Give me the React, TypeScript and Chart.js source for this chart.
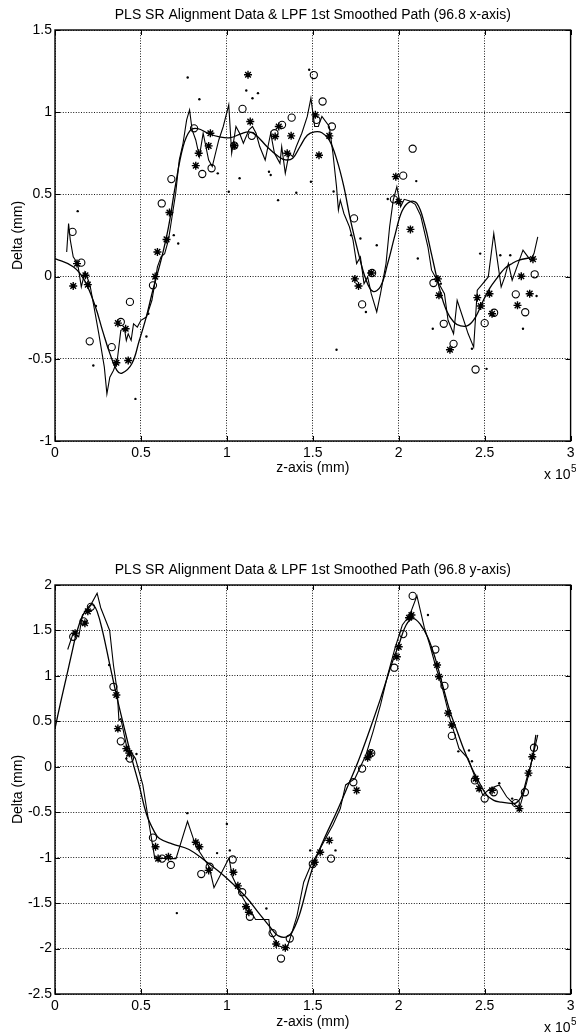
import React, { useEffect, useRef } from "react";
import { Chart, registerables } from "chart.js";

Chart.register(...registerables);

const FONT = "'Liberation Sans', Arial, Helvetica, sans-serif";

// ---------- shared axis data ----------
const Z_TICKS = [0, 0.5, 1, 1.5, 2, 2.5, 3]; // z-axis, in units of 10^5 mm
const Z_EXPONENT = "5";
const X_PLOT_TICKS = [-1, -0.5, 0, 0.5, 1, 1.5];
const Y_PLOT_TICKS = [-2.5, -2, -1.5, -1, -0.5, 0, 0.5, 1, 1.5, 2];

const TITLE_X = "PLS SR Alignment Data & LPF 1st Smoothed Path (96.8 x-axis)";
const TITLE_Y = "PLS SR Alignment Data & LPF 1st Smoothed Path (96.8 y-axis)";
const Z_LABEL = "z-axis (mm)";
const DELTA_LABEL = "Delta (mm)";

type P = [number, number];

// ---------- top chart (x-axis) ----------
const xSmooth: P[] = [
  [0, 0.11], [0.106, 0.06], [0.17, -0.02], [0.234, -0.18], [0.277, -0.33], [0.32, -0.47],
  [0.36, -0.57], [0.39, -0.587], [0.447, -0.53], [0.49, -0.39], [0.53, -0.25], [0.57, -0.08],
  [0.617, 0.1], [0.66, 0.3], [0.7, 0.55], [0.745, 0.79], [0.787, 0.89], [0.83, 0.9],
  [0.894, 0.87], [0.957, 0.85], [1.02, 0.845], [1.085, 0.87], [1.13, 0.88], [1.17, 0.86],
  [1.234, 0.79], [1.3, 0.73], [1.34, 0.71], [1.383, 0.72], [1.425, 0.79], [1.468, 0.86],
  [1.51, 0.88], [1.553, 0.875], [1.596, 0.83], [1.64, 0.71], [1.68, 0.55], [1.72, 0.34],
  [1.766, 0.14], [1.81, -0.02], [1.85, -0.09], [1.894, -0.06], [1.936, 0.08], [1.98, 0.26],
  [2.02, 0.4], [2.064, 0.455], [2.106, 0.445], [2.15, 0.32], [2.19, 0.14], [2.234, -0.06],
  [2.277, -0.205], [2.32, -0.276], [2.36, -0.3], [2.404, -0.297], [2.447, -0.246], [2.49, -0.15],
  [2.53, -0.07], [2.574, -0.006], [2.617, 0.05], [2.66, 0.08], [2.7, 0.1], [2.766, 0.115],
];
const xPath: P[] = [
  [0.068, 0.15], [0.079, 0.323], [0.089, 0.222], [0.106, 0.12], [0.132, 0.079], [0.153, -0.063],
  [0.174, 0.028], [0.202, -0.043], [0.23, -0.203], [0.255, -0.348], [0.287, -0.551], [0.302, -0.713],
  [0.319, -0.612], [0.34, -0.571], [0.362, -0.51], [0.383, -0.327], [0.404, -0.317], [0.415, -0.388],
  [0.426, -0.348], [0.443, -0.388], [0.457, -0.287], [0.479, -0.307], [0.5, -0.266], [0.532, -0.246],
  [0.564, -0.144], [0.574, -0.083], [0.596, 0.059], [0.617, 0.12], [0.638, 0.14], [0.66, 0.222],
  [0.681, 0.364], [0.702, 0.506], [0.723, 0.709], [0.745, 0.811], [0.766, 0.953], [0.783, 1.014],
  [0.798, 0.892], [0.819, 0.831], [0.84, 0.73], [0.862, 0.872], [0.894, 0.709], [0.915, 0.669],
  [0.953, 0.831], [0.979, 0.913], [1.011, 1.045], [1.028, 0.75], [1.053, 0.913], [1.074, 0.872],
  [1.096, 0.811], [1.128, 0.892], [1.149, 0.913], [1.17, 0.872], [1.191, 0.791], [1.223, 0.709],
  [1.255, 0.872], [1.277, 0.75], [1.309, 0.689], [1.319, 0.791], [1.34, 0.628], [1.362, 0.75],
  [1.383, 0.73], [1.404, 0.791], [1.436, 0.872], [1.468, 0.974], [1.489, 1.085], [1.511, 0.913],
  [1.532, 0.913], [1.553, 0.974], [1.596, 0.913], [1.617, 0.75], [1.638, 0.547], [1.649, 0.404],
  [1.66, 0.465], [1.681, 0.384], [1.713, 0.303], [1.734, 0.222], [1.755, 0.079], [1.777, 0.12],
  [1.798, -0.043], [1.819, -0.002], [1.84, -0.104], [1.872, -0.215], [1.894, -0.104], [1.926, 0.079],
  [1.947, 0.303], [1.968, 0.465], [1.989, 0.547], [2.011, 0.425], [2.032, 0.47], [2.064, 0.46],
  [2.096, 0.44], [2.128, 0.37], [2.17, 0.18], [2.191, 0.039], [2.213, -0.002], [2.234, -0.043],
  [2.266, -0.104], [2.287, -0.266], [2.319, -0.348], [2.34, -0.144], [2.372, -0.246], [2.404, -0.348],
  [2.436, -0.429], [2.457, -0.083], [2.489, -0.043], [2.521, -0.002], [2.553, 0.262], [2.574, 0.1],
  [2.596, -0.063], [2.617, -0.002], [2.638, 0.079], [2.66, -0.022], [2.702, 0.1], [2.723, 0.161],
  [2.766, 0.1], [2.787, 0.14], [2.809, 0.242],
];
const xCircles: P[] = [
  [0.102, 0.272], [0.153, 0.085], [0.202, -0.394], [0.33, -0.429], [0.383, -0.276], [0.436, -0.154],
  [0.57, -0.053], [0.621, 0.445], [0.677, 0.593], [0.809, 0.902], [0.857, 0.624], [0.911, 0.659],
  [1.043, 0.797], [1.091, 1.02], [1.145, 0.856], [1.277, 0.872], [1.321, 0.923], [1.377, 0.967],
  [1.506, 1.226], [1.521, 0.953], [1.557, 1.065], [1.611, 0.913], [1.74, 0.354], [1.787, -0.169],
  [1.845, 0.022], [1.972, 0.47], [2.026, 0.614], [2.081, 0.778], [2.202, -0.039], [2.262, -0.287],
  [2.319, -0.409], [2.447, -0.565], [2.5, -0.283], [2.555, -0.22], [2.681, -0.108], [2.736, -0.217],
  [2.791, 0.014],
];
const xStars: P[] = [
  [0.106, -0.057], [0.128, 0.079], [0.177, 0.008], [0.191, -0.049], [0.357, -0.524], [0.366, -0.283],
  [0.411, -0.317], [0.426, -0.51], [0.583, 0], [0.596, 0.15], [0.649, 0.226], [0.666, 0.39],
  [0.819, 0.675], [0.836, 0.75], [0.894, 0.795], [0.904, 0.872], [1.043, 0.797], [1.123, 1.228],
  [1.136, 0.943], [1.281, 0.852], [1.302, 0.913], [1.351, 0.75], [1.374, 0.856], [1.515, 0.984],
  [1.536, 0.738], [1.596, 0.856], [1.745, -0.014], [1.766, -0.057], [1.84, 0.022], [1.983, 0.608],
  [2.0, 0.455], [2.068, 0.287], [2.228, -0.014], [2.234, -0.114], [2.298, -0.445], [2.457, -0.128],
  [2.477, -0.179], [2.528, -0.104], [2.543, -0.226], [2.691, -0.175], [2.713, 0.002], [2.762, -0.104],
  [2.781, 0.106],
];
const xDots: P[] = [
  [0.132, 0.398], [0.238, -0.179], [0.223, -0.541], [0.468, -0.744], [0.532, -0.364], [0.543, -0.226],
  [0.691, 0.252], [0.717, 0.201], [0.772, 1.211], [0.84, 1.079], [0.947, 0.628], [1.011, 0.516],
  [1.074, 0.598], [1.113, 1.132], [1.149, 1.085], [1.181, 1.116], [1.245, 0.638], [1.255, 0.618],
  [1.298, 0.465], [1.404, 0.51], [1.479, 1.258], [1.489, 0.577], [1.621, 0.518], [1.638, -0.445],
  [1.723, 0.252], [1.777, 0.232], [1.809, -0.215], [1.872, 0.191], [1.936, 0.472], [2.102, 0.581],
  [2.111, 0.11], [2.198, -0.317], [2.245, -0.043], [2.426, -0.439], [2.474, 0.14], [2.511, -0.561],
  [2.591, 0.13], [2.649, 0.13], [2.723, -0.317], [2.802, -0.118],
];

// ---------- bottom chart (y-axis) ----------
const ySmooth: P[] = [
  [0, 0.42], [0.034, 0.72], [0.068, 1.0], [0.1, 1.27], [0.125, 1.47], [0.16, 1.66], [0.2, 1.77],
  [0.222, 1.78], [0.245, 1.71], [0.277, 1.49], [0.319, 1.12], [0.362, 0.75], [0.404, 0.42],
  [0.447, 0.09], [0.489, -0.2], [0.532, -0.52], [0.574, -0.7], [0.608, -0.79], [0.685, -0.85],
  [0.78, -0.91], [0.877, -1.04], [0.99, -1.21], [1.11, -1.43], [1.186, -1.61], [1.263, -1.79],
  [1.3, -1.86], [1.35, -1.87], [1.385, -1.8], [1.427, -1.6], [1.476, -1.25], [1.52, -1.0],
  [1.574, -0.76], [1.638, -0.5], [1.702, -0.22], [1.766, 0.07], [1.83, 0.4], [1.894, 0.75],
  [1.957, 1.12], [2.0, 1.34], [2.043, 1.56], [2.085, 1.63], [2.128, 1.56], [2.17, 1.42],
  [2.213, 1.19], [2.255, 0.9], [2.298, 0.61], [2.34, 0.39], [2.383, 0.17], [2.426, -0.02],
  [2.468, -0.17], [2.511, -0.31], [2.553, -0.37], [2.596, -0.39], [2.638, -0.4], [2.681, -0.4],
  [2.713, -0.33], [2.745, -0.13], [2.777, 0.09], [2.798, 0.35],
];
const yPath: P[] = [
  [0.074, 1.29], [0.106, 1.47], [0.138, 1.43], [0.16, 1.67], [0.202, 1.76], [0.245, 1.91],
  [0.266, 1.75], [0.318, 1.5], [0.34, 1.12], [0.362, 0.83], [0.372, 0.51], [0.383, 0.53],
  [0.415, 0.24], [0.468, 0.09], [0.511, -0.2], [0.55, -0.66], [0.58, -1.0], [0.646, -1.01],
  [0.704, -1.01], [0.771, -0.6], [0.82, -0.875], [0.897, -1.1], [0.925, -1.33], [1.013, -1.0],
  [1.03, -1.2], [1.08, -1.4], [1.167, -1.68], [1.244, -1.68], [1.253, -1.82], [1.3, -1.97],
  [1.35, -2.0], [1.408, -1.64], [1.447, -1.27], [1.489, -1.08], [1.532, -0.94], [1.574, -0.79],
  [1.617, -0.64], [1.66, -0.46], [1.691, -0.2], [1.745, -0.13], [1.809, 0.13], [1.851, 0.39],
  [1.894, 0.68], [1.936, 1.01], [1.979, 1.31], [2.021, 1.56], [2.064, 1.67], [2.106, 1.88],
  [2.149, 1.53], [2.181, 1.34], [2.213, 1.12], [2.255, 0.86], [2.298, 0.53], [2.351, 0.2],
  [2.404, 0.09], [2.447, -0.13], [2.489, -0.31], [2.532, -0.24], [2.585, -0.2], [2.628, -0.33],
  [2.66, -0.39], [2.702, -0.46], [2.745, -0.17], [2.777, 0.09], [2.809, 0.35],
];
const yCircles: P[] = [
  [0.106, 1.43], [0.166, 1.6], [0.209, 1.76], [0.34, 0.88], [0.383, 0.28], [0.436, 0.09],
  [0.57, -0.78], [0.623, -1.01], [0.674, -1.08], [0.851, -1.18], [0.9, -1.1], [1.034, -1.02],
  [1.089, -1.38], [1.134, -1.65], [1.266, -1.83], [1.315, -2.11], [1.366, -1.89], [1.5, -1.07],
  [1.606, -1.01], [1.736, -0.17], [1.787, -0.02], [1.84, 0.15], [1.974, 1.09], [2.026, 1.46],
  [2.081, 1.88], [2.213, 1.29], [2.266, 0.89], [2.309, 0.34], [2.443, -0.15], [2.5, -0.35],
  [2.553, -0.28], [2.681, -0.4], [2.734, -0.28], [2.787, 0.21],
];
const yStars: P[] = [
  [0.117, 1.47], [0.174, 1.58], [0.191, 1.71], [0.357, 0.79], [0.366, 0.42], [0.415, 0.2],
  [0.432, 0.15], [0.585, -0.88], [0.6, -1.01], [0.66, -0.99], [0.819, -0.83], [0.84, -0.88],
  [0.894, -1.14], [1.038, -1.16], [1.064, -1.31], [1.111, -1.54], [1.128, -1.6], [1.287, -1.95],
  [1.34, -1.99], [1.511, -1.05], [1.543, -0.94], [1.596, -0.81], [1.755, -0.26], [1.819, 0.1],
  [1.834, 0.15], [1.989, 1.21], [2.0, 1.32], [2.06, 1.64], [2.074, 1.67], [2.223, 1.12],
  [2.234, 0.99], [2.287, 0.59], [2.309, 0.46], [2.447, -0.13], [2.468, -0.24], [2.543, -0.26],
  [2.702, -0.46], [2.755, -0.07], [2.777, 0.11],
];
const yDots: P[] = [
  [0.315, 1.12], [0.415, 0.09], [0.474, 0.14], [0.77, -0.51], [1.0, -0.63], [0.943, -0.95],
  [1.017, -0.92], [0.709, -1.61], [1.23, -1.56], [1.485, -0.92], [1.632, -0.92], [2.17, 1.67],
  [2.347, 0.17], [2.409, 0.18], [2.426, 0.06], [2.585, -0.18], [2.66, -0.35],
];

// ---------- chart building ----------
type Spec = {
  title: string;
  yMin: number;
  yMax: number;
  yTicks: number[];
  smooth: P[];
  path: P[];
  circles: P[];
  stars: P[];
  dots: P[];
  padTop: number;
  padBottom: number;
  xAxisHeight: number;
};

const pts = (a: P[]) => a.map(([x, y]) => ({ x, y }));

const decorPlugin = {
  id: "decor",
  afterDatasetsDraw(chart: any, _args: any, opts: any) {
    const { ctx, chartArea: a, scales } = chart;
    ctx.save();
    // inside tick marks
    ctx.strokeStyle = "#000";
    ctx.lineWidth = 1;
    ctx.beginPath();
    for (const v of Z_TICKS) {
      const x = Math.round(scales.x.getPixelForValue(v)) + 0.5;
      ctx.moveTo(x, a.bottom);
      ctx.lineTo(x, a.bottom - 5);
      ctx.moveTo(x, a.top);
      ctx.lineTo(x, a.top + 5);
    }
    for (const v of opts.yTicks) {
      const y = Math.round(scales.y.getPixelForValue(v)) + 0.5;
      ctx.moveTo(a.left, y);
      ctx.lineTo(a.left + 5, y);
      ctx.moveTo(a.right, y);
      ctx.lineTo(a.right - 5, y);
    }
    ctx.stroke();
    // frame
    ctx.lineWidth = 1.4;
    ctx.strokeRect(a.left, a.top, a.right - a.left, a.bottom - a.top);
    // title
    ctx.fillStyle = "#000";
    ctx.font = `14px ${FONT}`;
    ctx.textAlign = "center";
    ctx.textBaseline = "middle";
    ctx.fillText(opts.title, (a.left + a.right) / 2, a.top - 15);
    // exponent
    ctx.textAlign = "left";
    const base = "x 10";
    const bx = 544;
    ctx.fillText(base, bx, a.bottom + 34);
    const w = ctx.measureText(base).width;
    ctx.font = `10px ${FONT}`;
    ctx.fillText(Z_EXPONENT, bx + w + 0.5, a.bottom + 28);
    ctx.restore();
  },
};

function makeConfig(spec: Spec): any {
  const tickFont = { family: FONT, size: 14 };
  return {
    type: "scatter",
    data: {
      datasets: [
        {
          data: pts(spec.smooth),
          showLine: true,
          borderColor: "#000",
          borderWidth: 1.3,
          pointRadius: 0,
          tension: 0.4,
          fill: false,
        },
        {
          data: pts(spec.path),
          showLine: true,
          borderColor: "#000",
          borderWidth: 1.1,
          pointRadius: 0,
          tension: 0,
          fill: false,
        },
        {
          data: pts(spec.circles),
          showLine: false,
          pointStyle: "circle",
          pointRadius: 3.6,
          borderColor: "#000",
          backgroundColor: "rgba(0,0,0,0)",
          borderWidth: 1.1,
        },
        {
          data: pts(spec.stars),
          showLine: false,
          pointStyle: "star",
          pointRadius: 4,
          borderColor: "#000",
          borderWidth: 1.4,
        },
        {
          data: pts(spec.dots),
          showLine: false,
          pointStyle: "circle",
          pointRadius: 1.2,
          borderWidth: 0,
          backgroundColor: "#000",
        },
      ],
    },
    options: {
      responsive: false,
      animation: false,
      events: [],
      layout: { padding: { top: spec.padTop, left: 0, right: 3, bottom: spec.padBottom } },
      plugins: {
        legend: { display: false },
        tooltip: { enabled: false },
        decor: { title: spec.title, yTicks: spec.yTicks },
      },
      scales: {
        x: {
          type: "linear",
          min: 0,
          max: 3,
          afterBuildTicks: (s: any) => {
            s.ticks = Z_TICKS.map((v) => ({ value: v }));
          },
          afterFit: (s: any) => {
            s.height = spec.xAxisHeight;
            s.paddingLeft = 0;
            s.paddingRight = 0;
          },
          ticks: {
            callback: (v: any) => String(v),
            font: tickFont,
            color: "#000",
            padding: 4,
            maxRotation: 0,
            autoSkip: false,
          },
          grid: { color: "#000", lineWidth: 0.9, drawTicks: false },
          border: { display: false, dash: [1, 1.6] },
          title: {
            display: true,
            text: Z_LABEL,
            font: tickFont,
            color: "#000",
            padding: { top: 0, bottom: 0 },
          },
        },
        y: {
          type: "linear",
          min: spec.yMin,
          max: spec.yMax,
          afterBuildTicks: (s: any) => {
            s.ticks = spec.yTicks.map((v) => ({ value: v }));
          },
          afterFit: (s: any) => {
            s.width = 55;
          },
          ticks: {
            callback: (v: any) => String(v),
            font: tickFont,
            color: "#000",
            padding: 3,
            autoSkip: false,
          },
          grid: { color: "#000", lineWidth: 0.9, drawTicks: false },
          border: { display: false, dash: [1, 1.6] },
          title: {
            display: true,
            text: DELTA_LABEL,
            font: tickFont,
            color: "#000",
            padding: { top: 10, bottom: 0 },
          },
        },
      },
    },
    plugins: [decorPlugin],
  };
}

const TOP_SPEC: Spec = {
  title: TITLE_X,
  yMin: -1,
  yMax: 1.5,
  yTicks: X_PLOT_TICKS,
  smooth: xSmooth,
  path: xPath,
  circles: xCircles,
  stars: xStars,
  dots: xDots,
  padTop: 30,
  padBottom: 41,
  xAxisHeight: 36,
};

const BOTTOM_SPEC: Spec = {
  title: TITLE_Y,
  yMin: -2.5,
  yMax: 2,
  yTicks: Y_PLOT_TICKS,
  smooth: ySmooth,
  path: yPath,
  circles: yCircles,
  stars: yStars,
  dots: yDots,
  padTop: 67,
  padBottom: 5,
  xAxisHeight: 37,
};

function Plot({ spec }: { spec: Spec }) {
  const ref = useRef<HTMLCanvasElement>(null);
  useEffect(() => {
    const chart = new Chart(ref.current as HTMLCanvasElement, makeConfig(spec));
    return () => chart.destroy();
  }, [spec]);
  return (
    <canvas
      ref={ref}
      width={576}
      height={518}
      style={{ display: "block", width: 576, height: 518 }}
    />
  );
}

export default function App() {
  return (
    <div
      style={{
        position: "absolute",
        left: 0,
        top: 0,
        width: 576,
        height: 1036,
        background: "#fff",
        overflow: "hidden",
      }}
    >
      <Plot spec={TOP_SPEC} />
      <Plot spec={BOTTOM_SPEC} />
    </div>
  );
}
